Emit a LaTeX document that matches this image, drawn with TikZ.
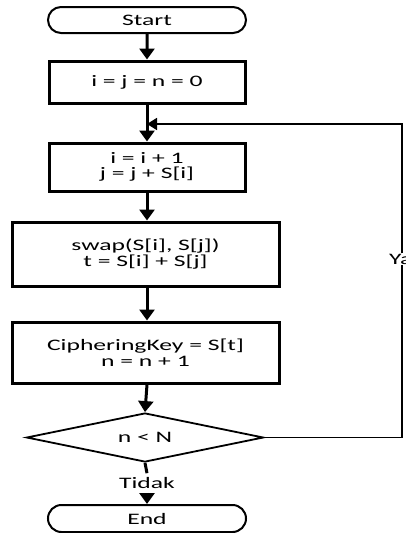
\documentclass[tikz,border=0pt]{standalone}
\usepackage{fontspec}
\setmainfont{Carlito}[FakeStretch=1.6]
\usetikzlibrary{shapes.geometric,shapes.misc,arrows.meta}
\tikzset{
  flowtext/.style={font=\fontsize{16}{15.5}\selectfont, align=center, inner sep=0pt},
  terminal/.style={flowtext, rounded rectangle, draw, line width=2pt},
  process/.style={flowtext, rectangle, draw, line width=3pt},
  decision/.style={flowtext, diamond, draw, line width=1.8pt, aspect=4.8},
  flow/.style={line width=3pt, -{Triangle[width=15pt,length=11pt]}},
  loopline/.style={line width=1.8pt},
  label/.style={flowtext, fill=white, inner sep=1pt}
}
\begin{document}
\begin{tikzpicture}[x=1pt,y=1pt]
  \useasboundingbox (0,0) rectangle (406,-533);
  \node[terminal, minimum width=198, minimum height=26] (start) at (147,-20) {Start};
  \node[process, minimum width=196, minimum height=42] (init) at (147,-82) {i = j = n = 0};
  \node[process, minimum width=196, minimum height=48] (step) at (147,-167) {i = i + 1\\ j = j + S[i]};
  \node[process, minimum width=267, minimum height=64] (swap) at (145.5,-254) {swap(S[i], S[j])\\ t = S[i] + S[j]};
  \node[process, minimum width=267, minimum height=61] (key) at (145.5,-352.5) {CipheringKey = S[t]\\ n = n + 1};
  \node[decision, minimum width=237, minimum height=49, inner sep=0pt] (test) at (145,-437.5) {};
  \node[flowtext] at (test) {n < N};
  \node[flowtext, inner ysep=4pt] (no) at (147,-483) {Tidak};
  \node[terminal, minimum width=198, minimum height=27] (end) at (147,-518.5) {End};

  \coordinate (merge) at (147,-124);
  \coordinate (turnlow) at (402,-437.5);
  \coordinate (turnhigh) at (402,-124);

  \draw[flow] (start) -- (init);
  \draw[flow] (init) -- (step);
  \draw[flow] (step.south) -- (step.south |- swap.north);
  \draw[flow] (step.south |- swap.south) -- (step.south |- key.north);
  \draw[flow] (step.south |- key.south) -- (test.north);
  \draw[line width=3pt] (test.south) -- (no.north);
  \draw[flow] (no.south) -- (end.north);
  \draw[loopline] (test.east) -- (turnlow) -- (turnhigh) -- (merge.east);
  \draw[loopline, -{Triangle[width=12pt,length=10pt]}] (turnhigh) -- (merge);
  \node[label, anchor=west] (yes) at (388,-259) {Ya};
\end{tikzpicture}
\end{document}
